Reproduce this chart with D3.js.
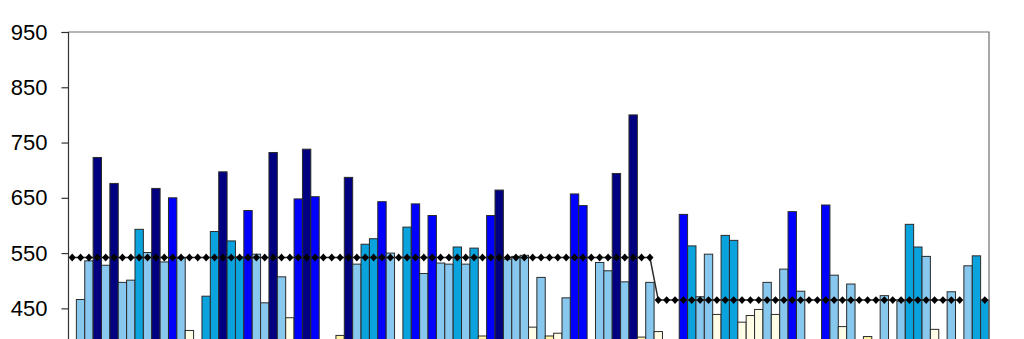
<!DOCTYPE html>
<html>
<head>
<meta charset="utf-8">
<script src="https://cdn.jsdelivr.net/npm/d3@7"></script>
<style>
    body { margin: 0; background: #fff; }
    svg { display: block; }
</style>
</head>
<body>
<svg></svg>
<script>
    // one slot per bar, no labels shown on the cropped chart
    let slots = d3.range(110);

    // bar values (null = below the visible part of the chart)
    let values = [
        null, 466, 536, 723, 528, 676, 497, 501, 593, 551,
        667, 534, 650, 541, 410, null, 472, 589, 697, 572,
        543, 627, 548, 460, 732, 507, 433, 648, 738, 652,
        null, null, 401, 687, 530, 566, 576, 643, 550, null,
        597, 639, 513, 618, 532, 530, 561, 530, 559, 400,
        618, 664, 539, 544, 546, 416, 506, 400, 405, 469,
        657, 636, null, 533, 518, 694, 498, 800, 398, 497,
        408, null, null, 620, 563, 471, 548, 439, 582, 573,
        425, 437, 448, 497, 439, 521, 625, 481, null, null,
        637, 510, 417, 494, null, 399, null, 473, null, 463,
        602, 561, 544, 412, null, 480, null, 527, 545, 465
    ];

    // bar class per slot
    let classes = [
        "-", "L", "L", "N", "L", "N", "L", "L", "M", "L",
        "N", "L", "B", "L", "C", "-", "M", "M", "N", "M",
        "M", "B", "L", "L", "N", "L", "C", "B", "N", "B",
        "-", "-", "Y", "N", "L", "M", "M", "B", "L", "-",
        "M", "B", "L", "B", "L", "L", "M", "L", "M", "Y",
        "B", "N", "L", "L", "L", "C", "L", "Y", "C", "L",
        "B", "B", "-", "L", "L", "N", "L", "N", "Y", "L",
        "C", "-", "-", "B", "M", "L", "L", "C", "M", "M",
        "C", "C", "C", "L", "C", "L", "B", "L", "-", "-",
        "B", "L", "C", "L", "-", "Y", "-", "L", "-", "L",
        "M", "M", "L", "C", "-", "L", "-", "L", "M", "M"
    ];

    // reference line with markers
    let refLine = [
        542, 542, 542, 542, 542, 542, 542, 542, 542, 542,
        542, 542, 542, 542, 542, 542, 542, 542, 542, 542,
        542, 542, 542, 542, 542, 542, 542, 542, 542, 542,
        542, 542, 542, 542, 542, 542, 542, 542, 542, 542,
        542, 542, 542, 542, 542, 542, 542, 542, 542, 542,
        542, 542, 542, 542, 542, 542, 542, 542, 542, 542,
        542, 542, 542, 542, 542, 542, 542, 542, 542, 542,
        465, 465, 465, 465, 465, 465, 465, 465, 465, 465,
        465, 465, 465, 465, 465, 465, 465, 465, 465, 465,
        465, 465, 465, 465, 465, 465, 465, 465, 465, 465,
        465, 465, 465, 465, 465, 465, 465, null, null, 465
    ];

    // visible tick labels (the axis runs on below the crop)
    let yTicks = [450, 550, 650, 750, 850, 950];

    let colors = {
        N: "#000080",
        B: "#0000ff",
        M: "#0ba3de",
        L: "#88c8ee",
        C: "#fffde6",
        Y: "#fff3a6"
    };

    let width = 1024;
    let height = 339;
    let plotLeft = 68;
    let plotRight = 989;
    let plotTop = 32;
    let pxPerUnit = 0.5527;

    let svg = d3.select("svg");
    let xScale;
    let yScale;

    let drawCanvas = () => {
        svg.attr('width', width);
        svg.attr('height', height);
    }

    let generateScales = () => {
        xScale = d3.scaleBand()
            .domain(slots)
            .range([plotLeft, plotRight])
            .padding(0);

        yScale = d3.scaleLinear()
            .domain([350, 950])
            .range([plotTop + 600 * pxPerUnit, plotTop]);
    }

    let drawBars = () => {
        svg.append('g')
            .selectAll('rect')
            .data(slots.filter((i) => values[i] !== null))
            .enter()
            .append('rect')
            .attr('x', (i) => xScale(i))
            .attr('width', xScale.bandwidth())
            .attr('y', (i) => yScale(values[i]))
            .attr('height', (i) => yScale(350) - yScale(values[i]))
            .attr('fill', (i) => colors[classes[i]])
            .attr('stroke', '#2b2b2b')
            .attr('stroke-width', 1);
    }

    let drawLine = () => {
        let cx = (i) => xScale(i) + xScale.bandwidth() / 2;
        let line = d3.line()
            .defined((i) => refLine[i] !== null)
            .x(cx)
            .y((i) => yScale(refLine[i]));

        svg.append('path')
            .datum(slots)
            .attr('d', line)
            .attr('fill', 'none')
            .attr('stroke', '#2a2a2a')
            .attr('stroke-width', 1.5);

        svg.append('g')
            .selectAll('path')
            .data(slots.filter((i) => refLine[i] !== null))
            .enter()
            .append('path')
            .attr('d', 'M0,-3.9L3.6,0L0,3.9L-3.6,0Z')
            .attr('transform', (i) => 'translate(' + cx(i) + ',' + yScale(refLine[i]) + ')')
            .attr('fill', '#000');
    }

    let generateAxes = () => {
        // plot border (top and right)
        svg.append('path')
            .attr('d', 'M' + plotLeft + ',' + plotTop + 'H' + plotRight + 'V' + height)
            .attr('fill', 'none')
            .attr('stroke', '#6e6e6e')
            .attr('stroke-width', 1.2);

        let yAxis = d3.axisLeft(yScale)
            .tickValues(yTicks)
            .tickSize(6.5)
            .tickPadding(14)
            .tickFormat(d3.format('d'));

        let g = svg.append('g')
            .attr('transform', 'translate(' + plotLeft + ',0)')
            .call(yAxis);

        g.select('.domain').attr('stroke', '#333').attr('stroke-width', 1.2);
        g.selectAll('.tick line').attr('stroke', '#333').attr('stroke-width', 1.2);
        g.selectAll('.tick text')
            .attr('fill', '#000')
            .style('font-family', '"Liberation Sans", Arial, sans-serif')
            .style('font-size', '22px');
    }

    drawCanvas();
    generateScales();
    drawBars();
    drawLine();
    generateAxes();
</script>
</body>
</html>
